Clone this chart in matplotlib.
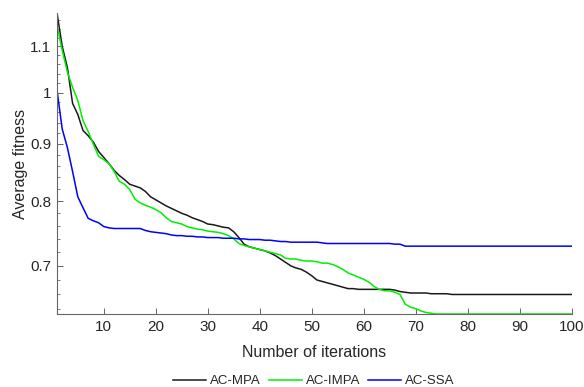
import matplotlib
matplotlib.use("Agg")
import matplotlib.pyplot as plt
from matplotlib.ticker import FixedLocator, MultipleLocator, NullFormatter
import numpy as np

iterations = list(range(1, 101))

ac_mpa = [1.178, 1.100, 1.053, 0.978, 0.956, 0.925, 0.915, 0.903, 0.886, 0.875,
          0.864, 0.852, 0.843, 0.836, 0.828, 0.825, 0.822, 0.816, 0.807, 0.802,
          0.797, 0.792, 0.788, 0.784, 0.780, 0.777, 0.773, 0.770, 0.767, 0.763,
          0.762, 0.760, 0.758, 0.757, 0.751, 0.742, 0.732, 0.728, 0.726, 0.724,
          0.722, 0.719, 0.715, 0.710, 0.705, 0.700, 0.697, 0.695, 0.691, 0.686,
          0.680, 0.678, 0.676, 0.674, 0.672, 0.670, 0.668, 0.668, 0.667, 0.667,
          0.667, 0.667, 0.667, 0.667, 0.667, 0.666, 0.664, 0.663, 0.662, 0.662,
          0.662, 0.662, 0.661, 0.661, 0.661, 0.661, 0.660, 0.660, 0.660, 0.660,
          0.660, 0.660, 0.660, 0.660, 0.660, 0.660, 0.660, 0.660, 0.660, 0.660,
          0.660, 0.660, 0.660, 0.660, 0.660, 0.660, 0.660, 0.660, 0.660, 0.660]

ac_impa = [1.147, 1.091, 1.043, 1.011, 0.984, 0.944, 0.923, 0.899, 0.877, 0.871,
           0.864, 0.850, 0.833, 0.828, 0.819, 0.803, 0.797, 0.793, 0.790, 0.786,
           0.781, 0.773, 0.767, 0.765, 0.763, 0.759, 0.757, 0.755, 0.754, 0.752,
           0.751, 0.750, 0.748, 0.745, 0.740, 0.733, 0.730, 0.728, 0.726, 0.724,
           0.722, 0.720, 0.718, 0.716, 0.711, 0.710, 0.710, 0.708, 0.707, 0.707,
           0.706, 0.704, 0.704, 0.702, 0.699, 0.695, 0.690, 0.687, 0.684, 0.681,
           0.677, 0.671, 0.667, 0.665, 0.665, 0.663, 0.660, 0.647, 0.643, 0.641,
           0.638, 0.636, 0.635, 0.634, 0.634, 0.634, 0.634, 0.634, 0.634, 0.634,
           0.634, 0.634, 0.634, 0.634, 0.634, 0.634, 0.634, 0.634, 0.634, 0.634,
           0.634, 0.634, 0.634, 0.634, 0.634, 0.634, 0.634, 0.634, 0.634, 0.634]

ac_ssa = [1.005, 0.928, 0.893, 0.850, 0.807, 0.789, 0.772, 0.768, 0.765, 0.759,
          0.757, 0.756, 0.756, 0.756, 0.756, 0.756, 0.756, 0.753, 0.751, 0.750,
          0.749, 0.748, 0.746, 0.745, 0.745, 0.744, 0.744, 0.743, 0.743, 0.742,
          0.742, 0.742, 0.741, 0.741, 0.741, 0.740, 0.740, 0.739, 0.739, 0.739,
          0.738, 0.738, 0.737, 0.736, 0.736, 0.735, 0.735, 0.735, 0.735, 0.735,
          0.735, 0.734, 0.733, 0.733, 0.733, 0.733, 0.733, 0.733, 0.733, 0.733,
          0.733, 0.733, 0.733, 0.733, 0.733, 0.732, 0.732, 0.729, 0.729, 0.729,
          0.729, 0.729, 0.729, 0.729, 0.729, 0.729, 0.729, 0.729, 0.729, 0.729,
          0.729, 0.729, 0.729, 0.729, 0.729, 0.729, 0.729, 0.729, 0.729, 0.729,
          0.729, 0.729, 0.729, 0.729, 0.729, 0.729, 0.729, 0.729, 0.729, 0.729]

series_names = ["AC-MPA", "AC-IMPA", "AC-SSA"]
y_ticks = [0.7, 0.8, 0.9, 1.0, 1.1]
y_tick_labels = ["0.7", "0.8", "0.9", "1", "1.1"]
x_ticks = [10, 20, 30, 40, 50, 60, 70, 80, 90, 100]

plt.rcParams['font.family'] = ['Liberation Sans', 'DejaVu Sans']
text_col = '#262626'

fig = plt.figure(figsize=(5.84, 3.87), dpi=100)
ax = fig.add_axes([57 / 584, 1 - 314 / 387, (571.5 - 57) / 584, (314 - 13) / 387])

ax.plot(iterations, ac_mpa, color='#1a1a1a', lw=1.1, label=series_names[0])
ax.plot(iterations, ac_impa, color='#00ee00', lw=1.1, label=series_names[1])
ax.plot(iterations, ac_ssa, color='#0000ff', lw=1.1, label=series_names[2])

ax.set_yscale('log')
all_vals = np.concatenate([ac_mpa, ac_impa, ac_ssa])
ax.set_ylim(all_vals.min(), all_vals.max())
ax.set_xlim(1, 100)

ax.yaxis.set_major_locator(FixedLocator(y_ticks))
ax.set_yticklabels(y_tick_labels)
ax.yaxis.set_minor_locator(MultipleLocator(0.02))
ax.yaxis.set_minor_formatter(NullFormatter())
ax.set_xticks(x_ticks)

for side in ['top', 'right']:
    ax.spines[side].set_visible(False)
for side in ['left', 'bottom']:
    ax.spines[side].set_color('#666666')
    ax.spines[side].set_linewidth(0.8)

ax.tick_params(axis='both', which='major', direction='in', length=4, width=0.7,
               color='#666666', labelsize=11, labelcolor=text_col, pad=4)
ax.tick_params(axis='y', which='minor', direction='in', length=2.5, width=0.6,
               color='#666666')
ax.tick_params(axis='x', which='minor', length=0)

ax.set_xlabel('Number of iterations', fontsize=11.5, color=text_col, labelpad=8)
ax.set_ylabel('Average fitness', fontsize=11.5, color=text_col, labelpad=2)

fig.legend(loc='center', bbox_to_anchor=(314 / 584, 1 - 381 / 387), ncol=3,
           frameon=False, fontsize=9.5, handlelength=2.5, handletextpad=0.3,
           columnspacing=0.6, labelcolor=text_col)

fig.savefig('out.png', dpi=100)
